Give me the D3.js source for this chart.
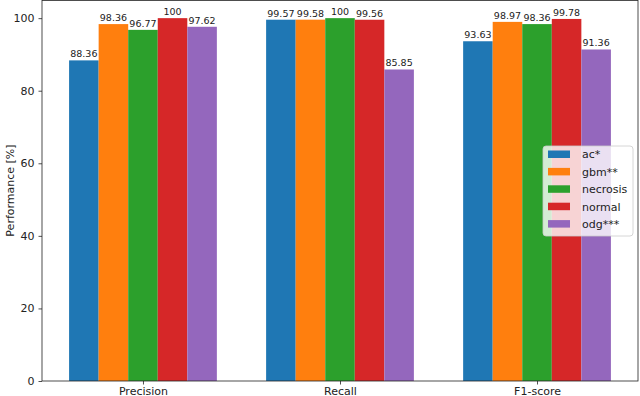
<!DOCTYPE html>
<html>
<head>
<meta charset="utf-8">
<script src="https://cdn.jsdelivr.net/npm/d3@7"></script>
<style>
  html, body { margin: 0; padding: 0; background: white; }
  svg { display: block; font-family: "DejaVu Sans", sans-serif; }
</style>
</head>
<body>
<div id="chart"></div>
<script>
var
  metrics = ["Precision", "Recall", "F1-score"],
  classes = ["ac*", "gbm**", "necrosis", "normal", "odg***"],
  colors = ["#1f77b4", "#ff7f0e", "#2ca02c", "#d62728", "#9467bd"],

  // one array per class, in metric order
  acValues = [88.36, 99.57, 93.63],
  gbmValues = [98.36, 99.58, 98.97],
  necrosisValues = [96.77, 100, 98.36],
  normalValues = [100, 99.56, 99.78],
  odgValues = [97.62, 85.85, 91.36],

  yTicks = [0, 20, 40, 60, 80, 100];

var series = [acValues, gbmValues, necrosisValues, normalValues, odgValues];

var
  WIDTH = 640,
  HEIGHT = 396,
  LEFT = 42,
  RIGHT = 638,
  TOP = 0,
  BOTTOM = 381,
  BAR_WIDTH = 0.15;

var svg = d3.select("#chart").append("svg")
  .attr("width", WIDTH)
  .attr("height", HEIGHT);

svg.append("rect").attr("width", WIDTH).attr("height", HEIGHT).attr("fill", "white");

// matplotlib-like margins: 5% around data range
var x = d3.scaleLinear()
  .domain([-0.5125, 2.5125])
  .range([LEFT, RIGHT]);

var y = d3.scaleLinear()
  .domain([0, 105])
  .range([BOTTOM, TOP]);

// bars
series.forEach(function(values, si){
  var g = svg.append("g").attr("fill", colors[si]);
  values.forEach(function(v, mi){
    var left = mi + (si - 2.5) * BAR_WIDTH;
    g.append("rect")
      .attr("x", x(left))
      .attr("y", y(v))
      .attr("width", x(left + BAR_WIDTH) - x(left))
      .attr("height", y(0) - y(v));
    svg.append("text")
      .attr("x", x(left + BAR_WIDTH / 2))
      .attr("y", y(v) - 3)
      .attr("text-anchor", "middle")
      .attr("font-size", "9.5px")
      .attr("fill", "#222")
      .text(v);
  });
});

// axes
var xAxis = d3.axisBottom(x)
  .tickValues(d3.range(metrics.length))
  .tickFormat(function(d){ return metrics[d]; })
  .tickSize(3.5)
  .tickPadding(3);

var yAxis = d3.axisLeft(y)
  .tickValues(yTicks)
  .tickSize(3.5)
  .tickPadding(4);

var gx = svg.append("g").attr("transform", "translate(0," + BOTTOM + ")").call(xAxis);
var gy = svg.append("g").attr("transform", "translate(" + LEFT + ",0)").call(yAxis);

[gx, gy].forEach(function(g){
  g.select(".domain").remove();
  g.selectAll("text").attr("font-size", "11px").attr("fill", "#222")
    .attr("font-family", "DejaVu Sans, sans-serif");
  g.selectAll("line").attr("stroke", "#222").attr("stroke-width", 0.8);
});

// frame
svg.append("rect")
  .attr("x", LEFT).attr("y", TOP + 0.5)
  .attr("width", RIGHT - LEFT).attr("height", BOTTOM - TOP - 0.5)
  .attr("fill", "none").attr("stroke", "#222").attr("stroke-width", 0.8);

// y label
svg.append("text")
  .attr("transform", "translate(10," + (BOTTOM + TOP) / 2 + ") rotate(-90)")
  .attr("text-anchor", "middle")
  .attr("dy", "0.35em")
  .attr("font-size", "11px")
  .attr("fill", "#222")
  .text("Performance [%]");

// legend
var legend = svg.append("g").attr("transform", "translate(543,146)");
legend.append("rect")
  .attr("width", 90).attr("height", 90)
  .attr("rx", 3)
  .attr("fill", "white").attr("fill-opacity", 0.8)
  .attr("stroke", "#ccc").attr("stroke-width", 0.8);

classes.forEach(function(name, i){
  var rowY = 8.5 + i * 17.4;
  legend.append("rect")
    .attr("x", 5).attr("y", rowY - 4)
    .attr("width", 22).attr("height", 7.5)
    .attr("fill", colors[i]);
  legend.append("text")
    .attr("x", 39).attr("y", rowY)
    .attr("dy", "0.35em")
    .attr("font-size", "11px")
    .attr("fill", "#222")
    .text(name);
});
</script>
</body>
</html>
